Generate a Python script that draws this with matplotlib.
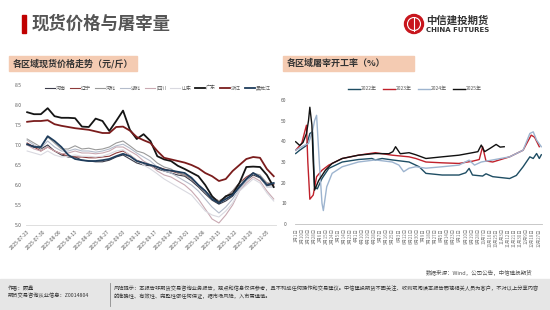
import matplotlib
matplotlib.use("Agg")
import matplotlib.pyplot as plt
from matplotlib.patches import Rectangle, Circle

plt.rcParams['font.family'] = ['Noto Sans CJK SC', 'DejaVu Sans']

# ---------------- data: left chart (spot price, yuan/jin) ----------------
price_days = [0, 3, 6, 9, 12, 15, 18, 21, 24, 27, 30, 33, 36, 39, 42, 45, 48, 51, 54,
              57, 60, 63, 66, 69, 72, 75, 78, 81, 84, 87, 90, 93, 96, 99, 102, 105, 108]
price_ticks = [0, 7, 14, 21, 28, 35, 42, 49, 56, 63, 70, 77, 84, 91, 98, 105]
price_tick_labels = ['2025-07-23', '2025-07-30', '2025-08-06', '2025-08-13', '2025-08-20',
                     '2025-08-27', '2025-09-03', '2025-09-10', '2025-09-17', '2025-09-24',
                     '2025-10-01', '2025-10-08', '2025-10-15', '2025-10-22', '2025-10-29',
                     '2025-11-05']

henan = [7.00, 6.98, 6.90, 7.00, 6.85, 6.75, 6.70, 6.70, 6.62, 6.60, 6.58, 6.58, 6.62, 6.70,
         6.75, 6.65, 6.55, 6.50, 6.48, 6.40, 6.35, 6.30, 6.25, 6.22, 6.10, 5.95, 5.78, 5.62,
         5.52, 5.60, 5.72, 5.98, 6.12, 6.25, 6.18, 5.98, 6.02]
liaoning = [7.05, 6.95, 6.85, 6.95, 6.85, 6.78, 6.72, 6.70, 6.70, 6.68, 6.68, 6.70, 6.72, 6.80,
            6.85, 6.75, 6.62, 6.55, 6.50, 6.45, 6.40, 6.35, 6.30, 6.25, 6.15, 6.00, 5.85, 5.70,
            5.60, 5.70, 5.85, 6.05, 6.20, 6.30, 6.20, 6.05, 6.00]
hebei = [7.15, 7.05, 6.95, 7.20, 7.05, 6.90, 6.90, 6.98, 6.90, 6.92, 6.88, 6.90, 6.95, 7.05,
         7.10, 6.98, 6.85, 6.80, 6.70, 6.55, 6.45, 6.40, 6.30, 6.25, 6.15, 6.00, 5.85, 5.70,
         5.60, 5.70, 5.85, 6.05, 6.15, 6.30, 6.25, 6.05, 6.05]
hubei = [7.12, 7.00, 6.92, 7.10, 6.95, 6.85, 6.85, 6.90, 6.85, 6.85, 6.82, 6.85, 6.90, 6.98,
         7.02, 6.92, 6.80, 6.70, 6.60, 6.45, 6.35, 6.30, 6.20, 6.10, 6.00, 5.85, 5.65, 5.45,
         5.30, 5.45, 5.65, 5.90, 6.10, 6.30, 6.20, 5.95, 5.95]
sichuan = [7.00, 6.90, 6.85, 6.95, 6.85, 6.78, 6.80, 6.85, 6.80, 6.80, 6.78, 6.80, 6.85, 6.95,
           6.95, 6.85, 6.75, 6.60, 6.50, 6.35, 6.25, 6.20, 6.10, 6.00, 5.85, 5.65, 5.40, 5.15,
           5.05, 5.25, 5.50, 5.85, 6.05, 6.20, 6.10, 5.85, 5.65]
shandong = [6.85, 6.80, 6.75, 6.85, 6.75, 6.70, 6.72, 6.75, 6.72, 6.72, 6.70, 6.72, 6.78, 6.85,
            6.88, 6.75, 6.62, 6.50, 6.40, 6.28, 6.15, 6.05, 5.95, 5.85, 5.75, 5.55, 5.35, 5.25,
            5.20, 5.35, 5.55, 5.85, 6.00, 6.15, 6.05, 5.80, 5.60]
guangdong = [7.82, 7.77, 7.77, 7.92, 7.72, 7.68, 7.68, 7.67, 7.46, 7.45, 7.66, 7.60, 7.35, 7.60,
             7.86, 7.38, 7.15, 7.27, 7.10, 6.72, 6.64, 6.60, 6.48, 6.40, 6.31, 6.22, 6.00, 5.72,
             5.55, 5.72, 5.78, 6.05, 6.45, 6.46, 6.45, 6.25, 5.95]
zhejiang = [7.58, 7.60, 7.60, 7.62, 7.52, 7.48, 7.45, 7.42, 7.40, 7.38, 7.34, 7.30, 7.30, 7.45,
            7.46, 7.36, 7.20, 7.12, 7.05, 6.85, 6.68, 6.64, 6.60, 6.56, 6.50, 6.42, 6.30, 6.22,
            6.10, 6.15, 6.35, 6.50, 6.65, 6.70, 6.68, 6.40, 6.22]
heilongjiang = [7.02, 6.95, 6.95, 7.22, 7.10, 6.95, 6.75, 6.65, 6.62, 6.60, 6.60, 6.62, 6.65,
                6.72, 6.78, 6.72, 6.60, 6.55, 6.50, 6.45, 6.38, 6.36, 6.33, 6.30, 6.18, 6.00,
                5.85, 5.65, 5.55, 5.65, 5.75, 5.95, 6.15, 6.30, 6.20, 6.00, 6.05]

price_series = [
    ('河南', henan, '#3d3d4a', 0.8),
    ('辽宁', liaoning, '#8e3a3a', 0.8),
    ('河北', hebei, '#9a9a9a', 0.8),
    ('湖北', hubei, '#b4bccb', 0.8),
    ('四川', sichuan, '#c9a9b2', 0.8),
    ('山东', shandong, '#d9d9e0', 0.8),
    ('广东', guangdong, '#151515', 1.3),
    ('浙江', zhejiang, '#7a1c1c', 1.3),
    ('黑龙江', heilongjiang, '#1f3d5c', 1.3),
]

# ---------------- data: right chart (slaughter operating rate, %) ----------------
days22 = [1, 7, 17, 22, 26, 29, 33, 40, 50, 70, 94, 114, 119, 129, 144, 169, 184, 194, 218,
          243, 253, 258, 263, 278, 283, 293, 318, 328, 338, 348, 353, 358, 362, 365]
rate22 = [34.1, 35.7, 38.0, 43.8, 44.6, 18.0, 17.0, 22.0, 26.9, 30.0, 31.2, 31.7, 31.0, 31.7,
          31.0, 30.0, 27.7, 24.5, 23.7, 23.7, 24.8, 26.9, 23.7, 23.2, 24.3, 22.9, 22.0, 23.5,
          27.7, 32.5, 31.7, 34.1, 31.7, 33.5]
days23 = [1, 10, 15, 17, 19, 22, 27, 32, 40, 50, 70, 94, 119, 144, 169, 179, 194, 218, 243,
          263, 273, 278, 283, 293, 318, 338, 350, 355, 362]
rate23 = [35.7, 39.0, 45.4, 47.8, 30.0, 12.0, 14.0, 22.9, 26.0, 28.5, 31.7, 33.3, 34.5, 33.3,
          32.5, 31.7, 30.0, 29.6, 29.3, 30.4, 31.2, 37.4, 30.5, 30.0, 32.5, 35.7, 43.0, 42.0, 37.4]
days24 = [1, 10, 20, 26, 29, 32, 36, 40, 42, 47, 55, 70, 94, 119, 144, 154, 161, 169, 179,
          194, 218, 243, 258, 266, 276, 293, 318, 338, 348, 353, 358, 365]
rate24 = [35.7, 37.4, 39.0, 45.0, 50.0, 52.6, 30.0, 10.0, 6.5, 18.0, 24.5, 27.7, 30.0, 31.0,
          30.0, 28.5, 25.3, 27.0, 27.7, 27.0, 27.7, 28.5, 30.9, 28.5, 30.0, 31.0, 32.5, 35.7,
          43.8, 44.6, 40.6, 37.4]
days25 = [1, 7, 12, 17, 20, 22, 25, 27, 29, 35, 45, 55, 70, 94, 119, 139, 145, 149, 156, 169,
          179, 194, 218, 243, 263, 271, 276, 281, 290, 298, 304, 310]
rate25 = [39.8, 38.0, 39.5, 43.8, 50.0, 56.5, 48.0, 30.0, 16.4, 21.0, 26.0, 29.3, 31.7, 33.3,
          34.1, 34.0, 35.0, 37.4, 34.0, 34.5, 33.5, 31.7, 32.5, 33.3, 34.5, 35.0, 38.2, 35.0,
          36.8, 38.5, 37.2, 37.4]

rate_series = [
    ('2022年', days22, rate22, '#1e4d63'),
    ('2023年', days23, rate23, '#c0212b'),
    ('2024年', days24, rate24, '#9db4cf'),
    ('2025年', days25, rate25, '#111111'),
]

rate_ticks = [1, 10, 19, 28, 37, 46, 55, 64, 73, 82, 91, 100, 109, 118, 127, 136, 145, 154,
              163, 172, 181, 190, 199, 208, 217, 226, 235, 244, 253, 262, 271, 280, 289, 298,
              307, 316, 325, 334, 343, 352, 361]
rate_tick_labels = ['1月1日', '1月10日', '1月19日', '1月28日', '2月6日', '2月15日', '2月24日',
                    '3月5日', '3月14日', '3月23日', '4月1日', '4月10日', '4月19日', '4月28日',
                    '5月7日', '5月16日', '5月25日', '6月3日', '6月12日', '6月21日', '6月30日',
                    '7月9日', '7月18日', '7月27日', '8月5日', '8月14日', '8月23日', '9月1日',
                    '9月10日', '9月19日', '9月28日', '10月7日', '10月16日', '10月25日',
                    '11月3日', '11月12日', '11月21日', '11月30日', '12月9日', '12月18日',
                    '12月27日']

W, H = 550, 310
fig = plt.figure(figsize=(W / 100, H / 100), dpi=100)
fig.patch.set_facecolor('white')

# background overlay in pixel coordinates
bg = fig.add_axes([0, 0, 1, 1])
bg.set_xlim(0, W)
bg.set_ylim(H, 0)
bg.axis('off')

# title
bg.add_patch(Rectangle((22, 15), 4, 18, color='#c00000'))
bg.text(32, 24, '现货价格与屠宰量', fontsize=12.5, fontweight='bold', color='#555555',
        va='center', ha='left')

# logo
bg.add_patch(Circle((414, 24), 9.5, color='#c8161d'))
bg.add_patch(Circle((414, 24), 6.5, fill=False, ec='white', lw=0.8))
bg.plot([414, 414], [17.5, 30.5], color='white', lw=0.8)
bg.text(426, 20.5, '中信建投期货', fontsize=7.5, fontweight='bold', color='#333333',
        va='center', ha='left')
bg.text(426, 30, 'CHINA FUTURES', fontsize=5, fontweight='bold', color='#333333',
        va='center', ha='left', family=['DejaVu Sans'])

# section headers
bg.add_patch(Rectangle((9, 56), 128, 15, color='#f4cbb2'))
bg.text(13, 63.5, '各区域现货价格走势（元/斤）', fontsize=6.5, fontweight='bold', color='#333333',
        va='center', ha='left')
bg.add_patch(Rectangle((283, 56), 131, 15, color='#f4cbb2'))
bg.text(287, 63.5, '各区域屠宰开工率（%）', fontsize=6.5, fontweight='bold', color='#333333',
        va='center', ha='left')

# source
bg.text(532, 272, '数据来源：Wind，公司公告，中信建投期货', fontsize=4, color='#555555',
        va='center', ha='right')

# footer
bg.add_patch(Rectangle((0, 279), W, 31, color='#e6e6e6'))
bg.plot([110, 110], [283, 306], color='#8c8c8c', lw=0.6)
bg.text(8, 288, '作者：顾鑫', fontsize=3.8, color='#333333', va='center', ha='left')
bg.text(8, 296, '期货交易咨询从业信息：Z0014804', fontsize=3.8, color='#333333', va='center',
        ha='left')
bg.text(114, 288, '风险提示：本报告非期货交易咨询业务报告，观点和信息仅供参考，且不构成任何操作和交易建议。'
        '中信建投期货不因关注、收到或阅读本报告而视相关人员为客户，不对以上分享内容',
        fontsize=3.75, color='#333333', va='center', ha='left')
bg.text(114, 296, '的准确性、有效性、完整性做任何保证，据市场风险，入市需谨慎。', fontsize=3.75,
        color='#333333', va='center', ha='left')

# ---------------- left chart ----------------
ax1 = fig.add_axes([26 / W, (H - 225) / H, 250 / W, 140 / H])
ax1.set_facecolor('none')
lines = []
for name, vals, col, lw in price_series:
    ln, = ax1.plot(price_days, vals, color=col, lw=lw, label=name)
    lines.append(ln)
ax1.set_xlim(-0.5, 109)
ax1.set_ylim(5.0, 8.5)
ax1.set_yticks([5.0, 5.5, 6.0, 6.5, 7.0, 7.5, 8.0, 8.5])
ax1.set_yticklabels(['%.1f' % v for v in [5.0, 5.5, 6.0, 6.5, 7.0, 7.5, 8.0, 8.5]])
ax1.set_xticks(price_ticks)
ax1.set_xticklabels(price_tick_labels, rotation=45, ha='right', rotation_mode='anchor')
ax1.tick_params(axis='both', length=0, labelsize=3.6, colors='#595959', pad=3)
for s in ['top', 'right', 'left']:
    ax1.spines[s].set_visible(False)
ax1.spines['bottom'].set_color('#d9d9d9')
ax1.spines['bottom'].set_linewidth(0.6)
fig.legend(handles=lines, loc='center', bbox_to_anchor=(158 / W, 1 - 88 / H), ncol=9,
           fontsize=3.6, frameon=False, handlelength=2.0, columnspacing=0.7,
           handletextpad=0.3, labelcolor='#595959')

# ---------------- right chart ----------------
ax2 = fig.add_axes([295 / W, (H - 224) / H, 247 / W, 124 / H])
ax2.set_facecolor('none')
lines2 = []
for name, d, v, col in rate_series:
    ln, = ax2.plot(d, v, color=col, lw=1.0, label=name)
    lines2.append(ln)
ax2.set_xlim(0, 366)
ax2.set_ylim(0, 60)
ax2.set_yticks([0, 10, 20, 30, 40, 50, 60])
ax2.set_xticks(rate_ticks)
ax2.set_xticklabels(rate_tick_labels, rotation=90, ha='center', va='top')
ax2.tick_params(axis='y', length=0, labelsize=3.6, colors='#595959', pad=6)
ax2.tick_params(axis='x', length=0, labelsize=3.2, colors='#7f7f7f', pad=3)
for s in ['top', 'right', 'left']:
    ax2.spines[s].set_visible(False)
ax2.spines['bottom'].set_color('#bfbfbf')
ax2.spines['bottom'].set_linewidth(0.6)
ax2.spines['bottom'].set_linestyle((0, (1, 1)))
fig.legend(handles=lines2, loc='center', bbox_to_anchor=(415 / W, 1 - 89 / H), ncol=4,
           fontsize=3.6, frameon=False, handlelength=2.4, columnspacing=1.1,
           handletextpad=0.3, labelcolor='#595959')

fig.savefig('out.png', dpi=100, facecolor='white')
